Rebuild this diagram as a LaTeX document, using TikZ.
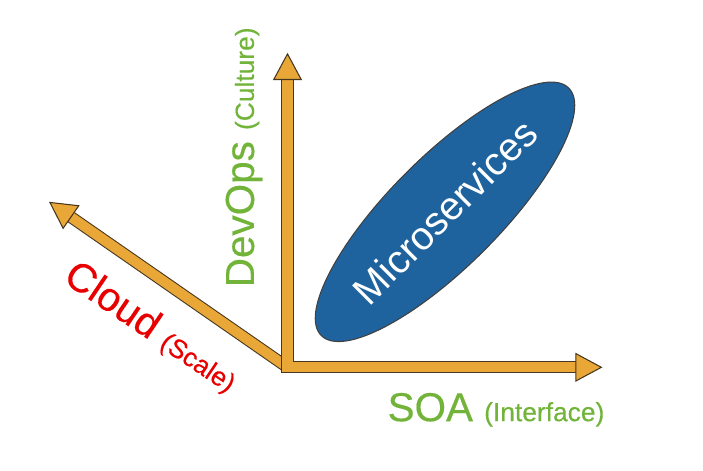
\documentclass[tikz,border=0pt]{standalone}
\usepackage{fontspec}
\setmainfont{Liberation Sans}[FakeBold=0.4]
\usetikzlibrary{shapes.geometric}
\usetikzlibrary{arrows.meta}

\definecolor{axeorange}{RGB}{233,167,56}
\definecolor{axebord}{RGB}{70,55,30}
\definecolor{vert}{RGB}{114,180,58}
\definecolor{rouge}{RGB}{232,0,0}
\definecolor{bleu}{RGB}{31,99,158}

\newcommand{\grand}{\fontsize{23}{27}\selectfont}
\newcommand{\petit}{\fontsize{15}{18}\selectfont}

\begin{document}
\begin{tikzpicture}
\tikzstyle{fleche}=[
        line width=5.7pt,
        draw=axeorange,
        line join=miter,
        >={Triangle[length=15.5pt,width=16.5pt,fill=axeorange,color=axebord,line width=0.6pt]}
]
\tikzstyle{bord}=[draw=axebord,line width=6.9pt,line join=miter,-,shorten >=15pt]
\tikzstyle{axe}=[fleche,preaction={bord,shorten <=15pt}]
\tikzstyle{axe simple}=[fleche,preaction={bord}]
\tikzstyle{etiquette}=[inner sep=1pt,font=\grand]
\tikzstyle{bulle}=[
        ellipse,
        draw=black!75,
        line width=0.6pt,
        fill=bleu,
        text=white,
        inner sep=0pt,
        minimum width=7cm,
        minimum height=2.2cm,
        font=\fontsize{22.5}{27}\fontspec{Liberation Sans}
]
\useasboundingbox (-5.75,-2.054) rectangle (8.31,7.346);
%extremites des axes
\coordinate (o) at (0,0);
\coordinate (culture) at (0,6.29);
\coordinate (interface) at (6.30,0);
\coordinate (scale) at (-4.77,3.31);
%axes
\draw[axe simple,->] (o) -- (scale);
\draw[axe,<->] (culture) -- (o) -- (interface);
%bulle
\node[bulle,rotate=45] (micro) at (3.15,3.11) {Microservices};
%etiquettes
\node[etiquette,text=vert,rotate=90] (devops) at (-0.87,4.2) {DevOps {\petit(Culture)}};
\node[etiquette,text=vert] (soa) at (4.17,-0.85) {SOA {\petit(Interface)}};
\node[etiquette,text=rouge,rotate=-34] (cloud) at (-2.72,0.8) {Cloud {\petit(Scale)}};
\end{tikzpicture}
\end{document}
